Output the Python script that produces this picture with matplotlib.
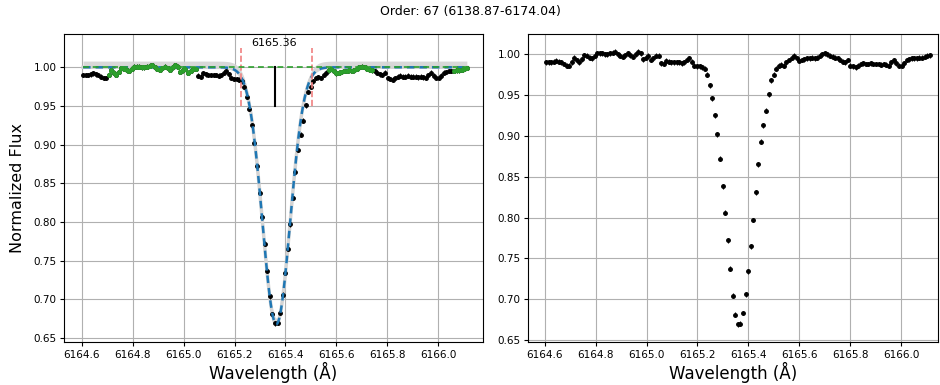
import numpy as np
import matplotlib
matplotlib.use("Agg")
import matplotlib.pyplot as plt

# ---------------- data ----------------
wl_start = 6164.605
wl_step = 0.01005
flux = [
    0.990, 0.990, 0.990, 0.991, 0.992, 0.991, 0.990, 0.988, 0.986, 0.986,
    0.990, 0.996, 0.993, 0.990, 0.994, 0.999, 0.998, 0.996, 0.995, 0.998,
    1.001, 1.001, 1.001, 1.000, 1.000, 1.001, 1.002, 1.003, 1.000, 0.998,
    0.997, 0.999, 1.001, 0.999, 0.997, 1.000, 1.003, 1.001, 0.994, 0.996,
    0.998, 0.993, 0.995, 0.998, 0.998, 0.989, 0.988, 0.992, 0.991, 0.990,
    0.990, 0.990, 0.990, 0.989, 0.990, 0.993, 0.995, 0.991, 0.986, 0.985,
    0.985, 0.984, 0.982, 0.975, 0.962, 0.946, 0.925, 0.902, 0.872, 0.838,
    0.806, 0.772, 0.737, 0.704, 0.681, 0.669, 0.670, 0.683, 0.706, 0.734,
    0.765, 0.797, 0.831, 0.865, 0.893, 0.913, 0.931, 0.951, 0.968, 0.975,
    0.982, 0.986, 0.987, 0.986, 0.990, 0.993, 0.996, 0.998, 0.995, 0.992,
    0.993, 0.994, 0.995, 0.995, 0.996, 0.995, 0.996, 0.998, 1.000, 1.001,
    1.000, 0.998, 0.997, 0.996, 0.995, 0.993, 0.991, 0.990, 0.993, 0.986,
    0.985, 0.984, 0.986, 0.988, 0.989, 0.988, 0.988, 0.989, 0.988, 0.988,
    0.988, 0.987, 0.988, 0.987, 0.986, 0.990, 0.993, 0.989, 0.986, 0.986,
    0.989, 0.993, 0.994, 0.995, 0.995, 0.995, 0.996, 0.996, 0.997, 0.998,
    0.999,
]
flux_err = 0.003

# Gaussian line fit parameters
fit_depth = 0.332
fit_center = 6165.364
fit_sigma = 0.054
band_lo = 0.001
band_hi = 0.008

# continuum windows (green points)
cont_windows = [(6164.70, 6165.055), (6165.56, 6165.75), (6166.06, 6166.12)]

line_label = "6165.36"
line_center = 6165.357
line_edges = [6165.226, 6165.505]

title = "Order: 67 (6138.87-6174.04)"
xticks = [6164.6, 6164.8, 6165.0, 6165.2, 6165.4, 6165.6, 6165.8, 6166.0]
yticks = [0.65, 0.70, 0.75, 0.80, 0.85, 0.90, 0.95, 1.00]

# ---------------- derived ----------------
flux = np.array(flux)
wl = np.round(wl_start + wl_step * np.arange(len(flux)), 4)
xf = np.linspace(wl[0], wl[-1], 800)
fit = 1.0 - fit_depth * np.exp(-(xf - fit_center) ** 2 / (2 * fit_sigma ** 2))
mask = np.zeros(len(wl), bool)
for a, b in cont_windows:
    mask |= (wl >= a) & (wl <= b)
green = np.where(mask, flux, np.nan)

# ---------------- figure ----------------
fig = plt.figure(figsize=(9.4, 3.85), dpi=100)
W, H = 940, 385
ax1 = fig.add_axes([64 / W, 1 - 342 / H, 419 / W, 308 / H])
ax2 = fig.add_axes([528 / W, 1 - 342 / H, 410 / W, 308 / H])

for ax in (ax1, ax2):
    ax.grid(True, color="#b0b0b0", lw=0.8)
    ax.set_axisbelow(True)
    ax.set_xticks(xticks)
    ax.set_xticklabels([f"{t:.1f}" for t in xticks])
    ax.set_yticks(yticks)
    ax.set_yticklabels([f"{t:.2f}" for t in yticks])
    ax.tick_params(labelsize=7.5, length=3, width=0.8, pad=2.5)
    ax.set_xlabel("Wavelength (Å)", fontsize=12, labelpad=1.5)
    for s in ax.spines.values():
        s.set_linewidth(0.8)

# left panel
ax1.fill_between(xf, fit - band_lo, fit + band_hi, color="#d4d4d4", alpha=0.9, lw=0, zorder=1.5)
ax1.plot(xf, fit, color="#d4d4d4", lw=2.5, zorder=1.6)
ax1.errorbar(wl, flux, yerr=flux_err, fmt="o", ms=2.5, color="black",
             ecolor="black", elinewidth=0.8, capsize=0, zorder=3)
ax1.plot(xf, fit, ls="--", color="#1f77b4", lw=1.8, dashes=(3, 2), zorder=3.5)
ax1.errorbar(wl, green, yerr=flux_err, fmt="o-", ms=2.5, color="#2ca02c",
             ecolor="#2ca02c", elinewidth=0.8, lw=1.0, zorder=4)
ax1.plot([wl[0], wl[-1]], [1.0, 1.0], ls="--", color="#2ca02c", lw=1.4,
         dashes=(3, 2), alpha=0.85, zorder=4.5)
for e in line_edges:
    ax1.plot([e, e], [0.95, 1.025], ls="--", color="#f08080", lw=1.2, zorder=4)
ax1.plot([line_center, line_center], [0.95, 1.0], color="black", lw=1.5, zorder=5)
ax1.text(line_center, 1.0255, line_label, ha="center", va="bottom", fontsize=8)
ax1.set_xlim(6164.530, 6166.176)
ax1.set_ylim(0.645, 1.043)
ax1.set_ylabel("Normalized Flux", fontsize=11.5, labelpad=6)

# right panel
ax2.errorbar(wl, flux, yerr=flux_err, fmt="o", ms=2.5, color="black",
             ecolor="black", elinewidth=0.8, capsize=0, zorder=3)
ax2.set_xlim(6164.534, 6166.145)
ax2.set_ylim(0.6475, 1.0248)

fig.suptitle(title, fontsize=9, y=1 - 12 / H, va="center")

fig.savefig("out.png", dpi=100)
